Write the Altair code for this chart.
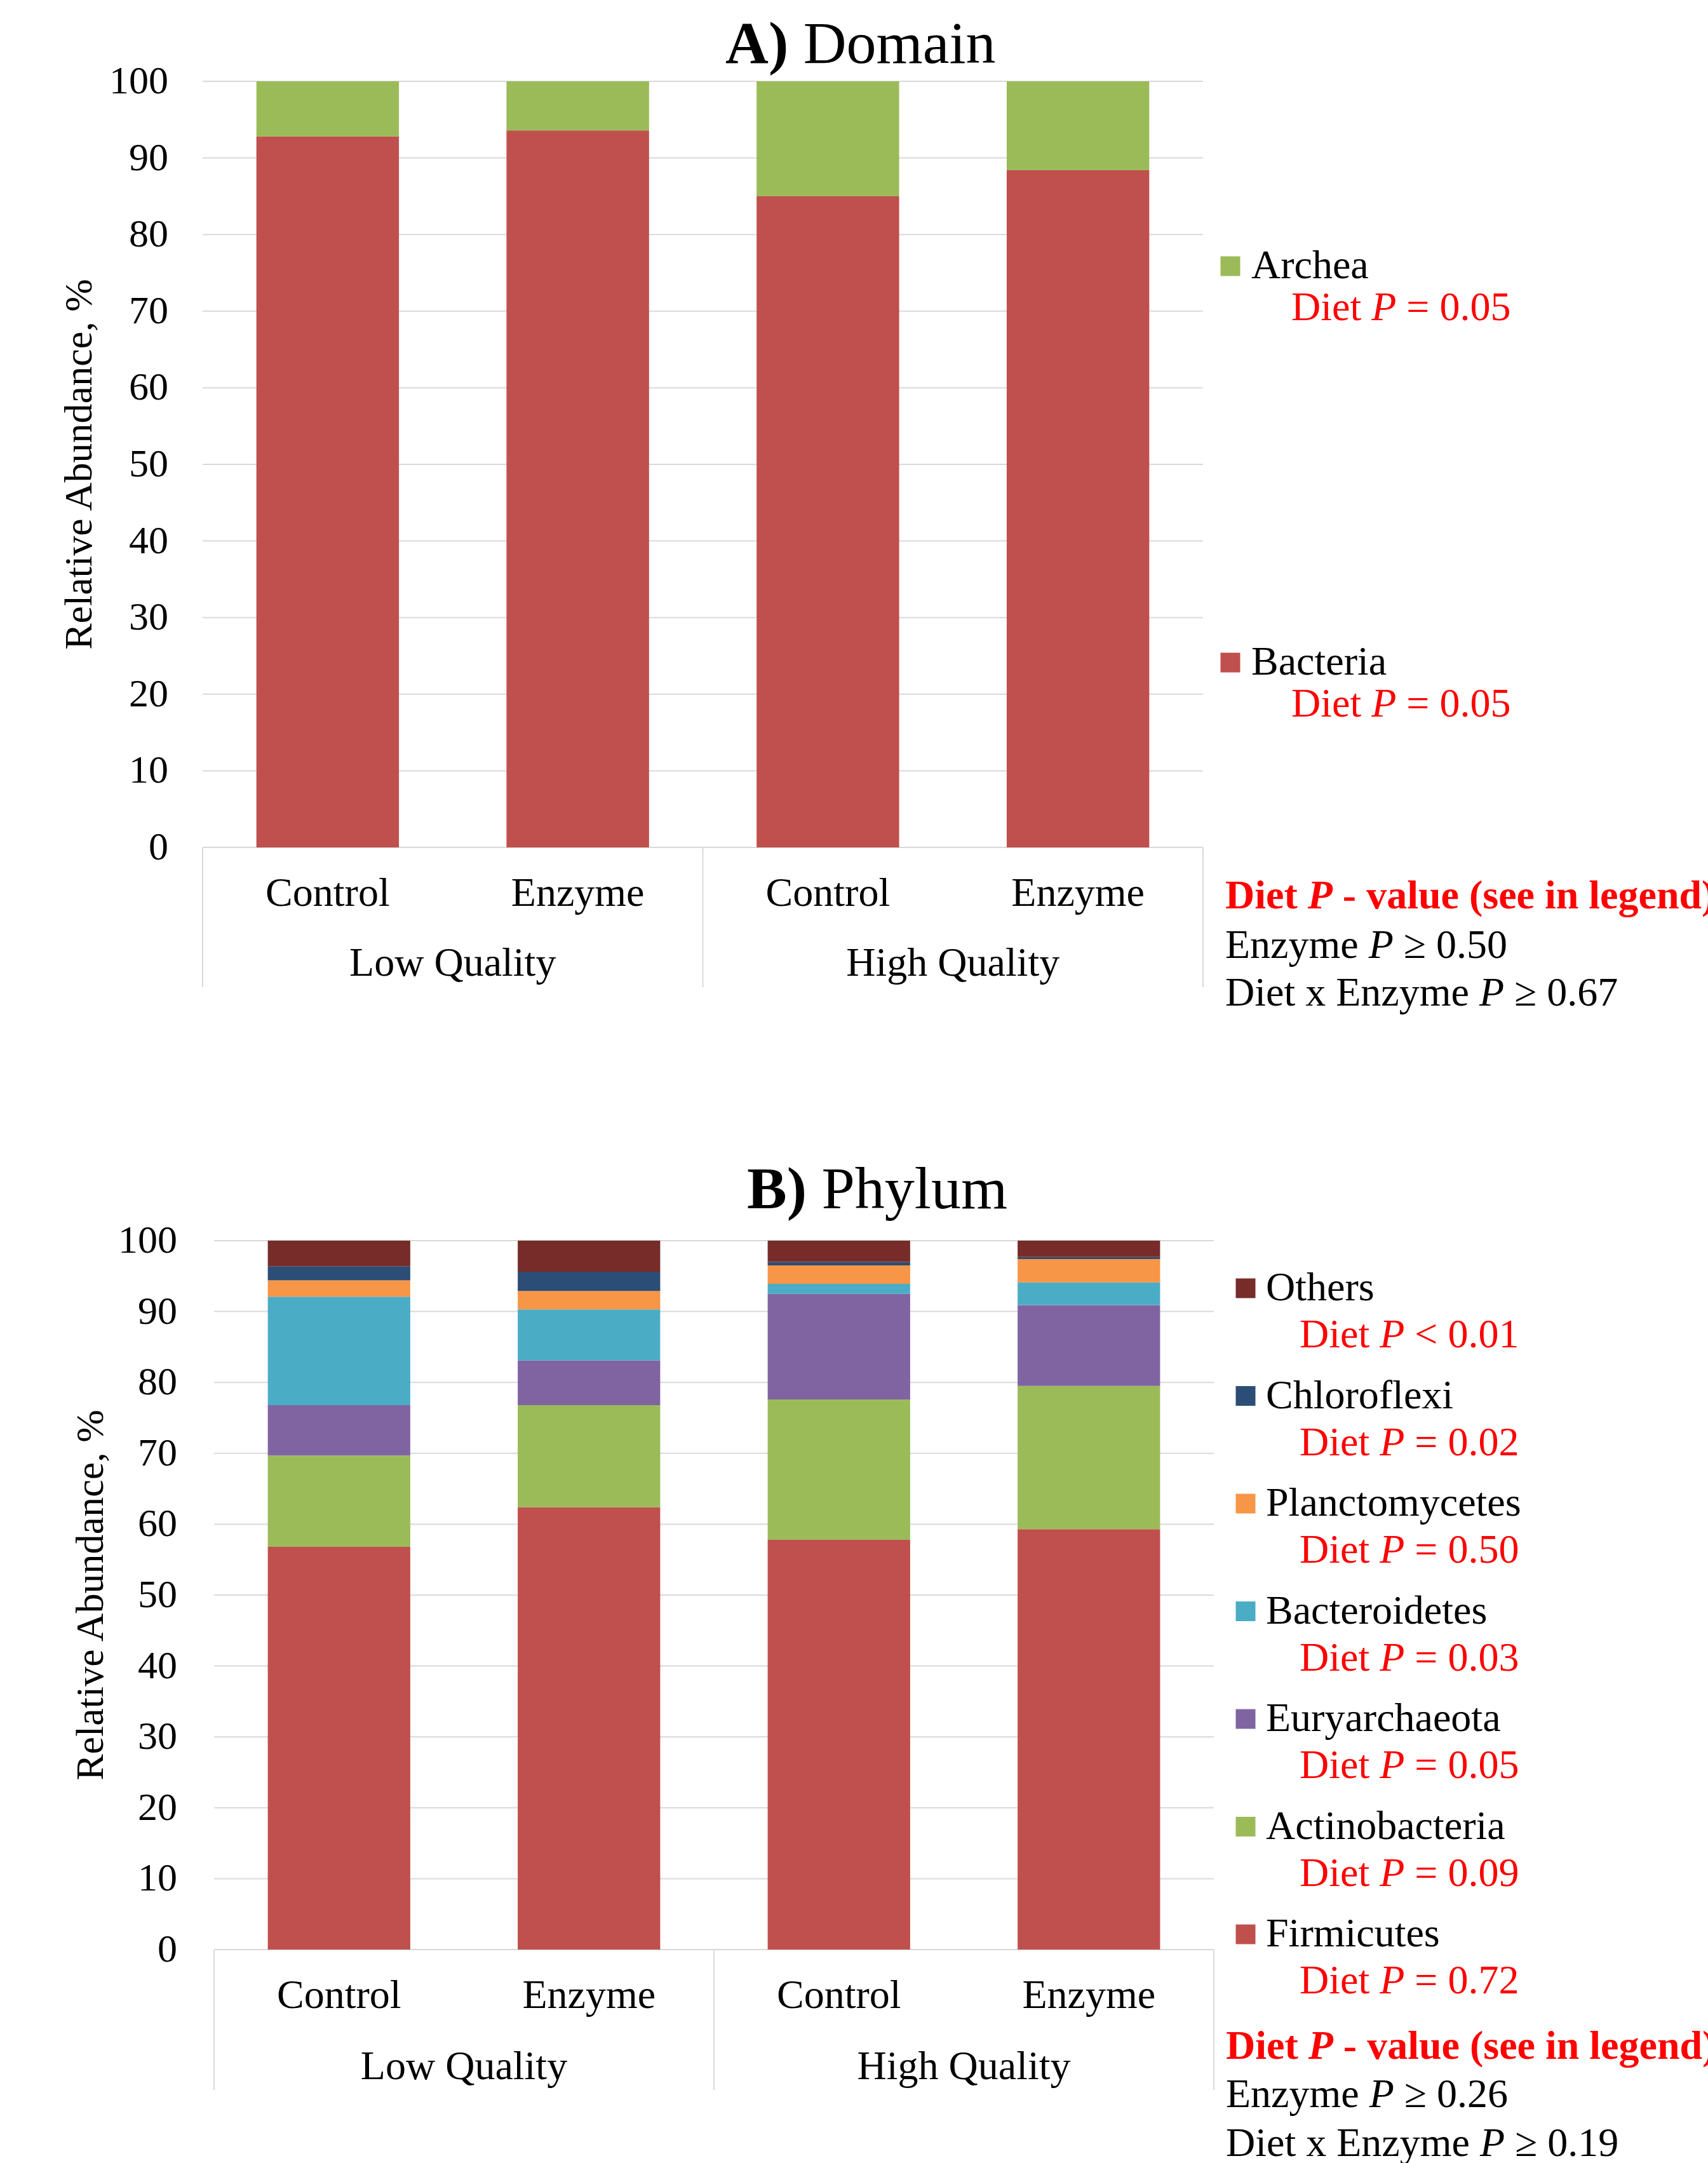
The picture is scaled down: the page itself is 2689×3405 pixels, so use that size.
import altair as alt
import pandas as pd

# ---------------- data ----------------
treatments = ["Control", "Enzyme", "Control", "Enzyme"]
diets = ["Low Quality", "Low Quality", "High Quality", "High Quality"]
diet_groups = ["Low Quality", "High Quality"]

# Panel A: Domain (stack order bottom -> top)
domain_series = ["Bacteria", "Archea"]
bacteria = [92.8, 93.6, 85.0, 88.4]
archea = [7.2, 6.4, 15.0, 11.6]
domain_diet_p = ["= 0.05", "= 0.05"]          # Bacteria, Archea
domain_enzyme_p = "≥ 0.50"
domain_inter_p = "≥ 0.67"

# Panel B: Phylum (stack order bottom -> top)
phylum_series = ["Firmicutes", "Actinobacteria", "Euryarchaeota", "Bacteroidetes",
                 "Planctomycetes", "Chloroflexi", "Others"]
firmicutes = [56.8, 62.4, 57.8, 59.3]
actinobacteria = [12.9, 14.4, 19.8, 20.2]
euryarchaeota = [7.1, 6.3, 14.9, 11.4]
bacteroidetes = [15.3, 7.2, 1.4, 3.2]
planctomycetes = [2.3, 2.6, 2.6, 3.3]
chloroflexi = [2.0, 2.7, 0.5, 0.3]
others = [3.6, 4.4, 3.0, 2.3]
phylum_diet_p = ["= 0.72", "= 0.09", "= 0.05", "= 0.03", "= 0.50", "= 0.02", "< 0.01"]
phylum_enzyme_p = "≥ 0.26"
phylum_inter_p = "≥ 0.19"

y_ticks = [0, 10, 20, 30, 40, 50, 60, 70, 80, 90, 100]

series_colors = {
    "Bacteria": "#C0504D", "Archea": "#9BBB59",
    "Firmicutes": "#C0504D", "Actinobacteria": "#9BBB59", "Euryarchaeota": "#8064A2",
    "Bacteroidetes": "#4BACC6", "Planctomycetes": "#F79646", "Chloroflexi": "#2C4D75",
    "Others": "#772C2A",
}

# ---------------- style / layout ----------------
FONT = "Liberation Serif"
RED = "#FF0000"
GRID = "#D9D9D9"
FS = 64

# Times-compatible advance widths (1/1000 em)
REG = {" ": 250, "D": 722, "i": 278, "e": 444, "t": 278, "E": 611, "n": 500, "z": 444,
       "y": 500, "m": 778, "x": 500}
BOLD = {" ": 250, "D": 722, "i": 278, "e": 444, "t": 333}
ITAL_P = 611


def tw(s, table, size=FS):
    return sum(table.get(c, 500) for c in s) * size / 1000.0


PANEL_A = dict(x0=319, x1=1894, y0=1334, y100=128, cat_y=1407, grp_y=1517, sep_bottom=1554,
               tick_x=265, ytitle_x=125, title_x=1142, title_y=99, tag="A)", name="Domain",
               leg_sq_x=1937, leg_lab_x=1970, leg_p_x=2033, leg_top=419, leg_bottom=1043,
               leg_p_dy=66, note_x=1929, note_y=[1411, 1489, 1564])
PANEL_B = dict(x0=337, x1=1911, y0=3069, y100=1953, cat_y=3142, grp_y=3254, sep_bottom=3290,
               tick_x=279, ytitle_x=143, title_x=1176, title_y=1902, tag="B)", name="Phylum",
               leg_sq_x=1961, leg_lab_x=1993, leg_p_x=2046, leg_top=2028, leg_bottom=3045,
               leg_p_dy=74, note_x=1930, note_y=[3222, 3298, 3375])

color_scale = alt.Scale(domain=list(series_colors.keys()), range=list(series_colors.values()))


def txt(text, x, y, size=FS, weight="normal", style="normal", color="black",
        align="left", baseline="middle", angle=0):
    return alt.Chart(pd.DataFrame({"t": [text]})).mark_text(
        font=FONT, fontSize=size, fontWeight=weight, fontStyle=style, color=color,
        align=align, baseline=baseline, angle=angle
    ).encode(x=alt.value(x), y=alt.value(y), text="t:N")


def make_panel(L, series, values, diet_p, enzyme_p, inter_p):
    keys = [f"{d}|{t}" for d, t in zip(diets, treatments)]
    xband = alt.Scale(domain=keys, range=[L["x0"], L["x1"]], paddingInner=0.43, paddingOuter=0.215)
    yscale = alt.Scale(domain=[0, 100], range=[L["y0"], L["y100"]], nice=False)
    gscale = alt.Scale(domain=[0, 2], range=[L["x0"], L["x1"]], nice=False, zero=False)
    layers = []

    # gridlines
    ticks_df = pd.DataFrame({"t": y_ticks})
    layers.append(alt.Chart(ticks_df).mark_rule(color=GRID, strokeWidth=2).encode(
        x=alt.value(L["x0"]), x2=alt.value(L["x1"]),
        y=alt.Y("t:Q", scale=yscale, axis=None)))
    # tick labels
    layers.append(alt.Chart(ticks_df).mark_text(font=FONT, fontSize=62, align="right",
                                                baseline="middle", color="black").encode(
        x=alt.value(L["tick_x"]), y=alt.Y("t:Q", scale=yscale, axis=None), text="t:Q"))

    # stacked bars
    rows = []
    for si, s in enumerate(series):
        for j in range(4):
            rows.append(dict(key=keys[j], series=s, value=values[si][j], ord=si))
    bars_df = pd.DataFrame(rows)
    layers.append(alt.Chart(bars_df).mark_bar().encode(
        x=alt.X("key:N", scale=xband, axis=None),
        y=alt.Y("value:Q", stack="zero", scale=yscale, axis=None),
        color=alt.Color("series:N", scale=color_scale, legend=None),
        order=alt.Order("ord:Q", sort="ascending")))

    # category axis separators
    sep_df = pd.DataFrame({"b": [0, 1, 2]})
    layers.append(alt.Chart(sep_df).mark_rule(color=GRID, strokeWidth=2).encode(
        x=alt.X("b:Q", scale=gscale, axis=None),
        y=alt.value(L["y0"]), y2=alt.value(L["sep_bottom"])))
    # treatment labels
    cat_df = pd.DataFrame({"key": keys, "lab": treatments})
    layers.append(alt.Chart(cat_df).mark_text(font=FONT, fontSize=FS, align="center",
                                              baseline="middle", color="black").encode(
        x=alt.X("key:N", scale=xband, axis=None, bandPosition=0.5),
        y=alt.value(L["cat_y"]), text="lab:N"))
    # diet group labels
    grp_df = pd.DataFrame({"g": [0.5, 1.5], "lab": diet_groups})
    layers.append(alt.Chart(grp_df).mark_text(font=FONT, fontSize=FS, align="center",
                                              baseline="middle", color="black").encode(
        x=alt.X("g:Q", scale=gscale, axis=None), y=alt.value(L["grp_y"]), text="lab:N"))

    # y axis title
    layers.append(txt("Relative Abundance, %", L["ytitle_x"], (L["y0"] + L["y100"]) / 2,
                      size=62, align="center", angle=270))
    # panel title
    layers.append(txt(L["tag"], L["title_x"], L["title_y"], size=94, weight="bold",
                      baseline="alphabetic"))
    layers.append(txt(L["name"], L["title_x"] + tw(L["tag"] + " ", {"A": 722, "B": 667, ")": 333, " ": 250}, 94),
                      L["title_y"], size=94, baseline="alphabetic"))

    # custom legend (top -> bottom = reverse of stack)
    n = len(series)
    leg_df = pd.DataFrame({"i": list(range(n)), "series": series[::-1], "p": diet_p[::-1]})
    ly = alt.Scale(domain=[0, n - 1], range=[L["leg_top"], L["leg_bottom"]], nice=False, zero=False)
    lyp = alt.Scale(domain=[0, n - 1], range=[L["leg_top"] + L["leg_p_dy"], L["leg_bottom"] + L["leg_p_dy"]],
                    nice=False, zero=False)
    layers.append(alt.Chart(leg_df).mark_square(size=31 * 31, opacity=1).encode(
        x=alt.value(L["leg_sq_x"]), y=alt.Y("i:Q", scale=ly, axis=None),
        color=alt.Color("series:N", scale=color_scale, legend=None)))
    layers.append(alt.Chart(leg_df).mark_text(font=FONT, fontSize=FS, align="left",
                                              baseline="middle", color="black").encode(
        x=alt.value(L["leg_lab_x"]), y=alt.Y("i:Q", scale=ly, axis=None), text="series:N"))
    px = L["leg_p_x"]
    p_off = tw("Diet ", REG)
    rest_off = p_off + ITAL_P * FS / 1000 + tw(" ", REG)
    for seg, xo, style, field in [("Diet", 0, "normal", None), ("P", p_off, "italic", None),
                                  (None, rest_off, "normal", "p")]:
        enc = dict(x=alt.value(px + xo), y=alt.Y("i:Q", scale=lyp, axis=None))
        mk = alt.Chart(leg_df).mark_text(font=FONT, fontSize=FS, fontStyle=style, align="left",
                                         baseline="middle", color=RED)
        if field:
            enc["text"] = alt.Text(f"{field}:N")
        else:
            mk = alt.Chart(leg_df).mark_text(font=FONT, fontSize=FS, fontStyle=style, align="left",
                                             baseline="middle", color=RED, text=seg)
        layers.append(mk.encode(**enc))

    # notes below legend
    nx = L["note_x"]
    ny = L["note_y"]
    b_off = tw("Diet ", BOLD)
    layers.append(txt("Diet", nx, ny[0], weight="bold", color=RED))
    layers.append(txt("P", nx + b_off, ny[0], weight="bold", style="italic", color=RED))
    layers.append(txt("- value (see in legend)", nx + b_off + ITAL_P * FS / 1000 + tw(" ", BOLD),
                      ny[0], weight="bold", color=RED))
    for lead, pv, yy in [("Enzyme", enzyme_p, ny[1]), ("Diet x Enzyme", inter_p, ny[2])]:
        o = tw(lead + " ", REG)
        layers.append(txt(lead, nx, yy))
        layers.append(txt("P", nx + o, yy, style="italic"))
        layers.append(txt(pv, nx + o + ITAL_P * FS / 1000 + tw(" ", REG), yy))
    return layers


layers_a = make_panel(PANEL_A, domain_series, [bacteria, archea], domain_diet_p,
                      domain_enzyme_p, domain_inter_p)
layers_b = make_panel(PANEL_B, phylum_series,
                      [firmicutes, actinobacteria, euryarchaeota, bacteroidetes,
                       planctomycetes, chloroflexi, others],
                      phylum_diet_p, phylum_enzyme_p, phylum_inter_p)

chart = alt.layer(*(layers_a + layers_b)).resolve_scale(
    x="independent", y="independent"
).properties(
    width=2689, height=3405, padding=0,
    autosize=alt.AutoSizeParams(type="none"),
    background="white",
).configure_view(stroke=None)

chart.save("out.html", embed_options={"renderer": "svg", "actions": False})
